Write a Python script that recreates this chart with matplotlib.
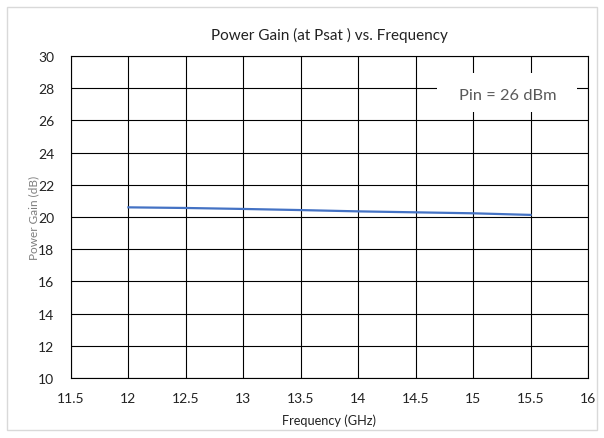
import matplotlib
matplotlib.use("Agg")
import matplotlib.pyplot as plt
from matplotlib.patches import Rectangle

plt.rcParams['font.family'] = ['Lato', 'DejaVu Sans']

freq_ghz = [12.0, 12.5, 13.0, 13.5, 14.0, 14.5, 15.0, 15.5]
gain_db = [20.60, 20.56, 20.50, 20.43, 20.35, 20.29, 20.23, 20.13]

x_ticks = [11.5, 12, 12.5, 13, 13.5, 14, 14.5, 15, 15.5, 16]
x_tick_labels = ["11.5", "12", "12.5", "13", "13.5", "14", "14.5", "15", "15.5", "16"]
y_ticks = [10, 12, 14, 16, 18, 20, 22, 24, 26, 28, 30]

title = "Power Gain (at Psat ) vs. Frequency"
x_label = "Frequency (GHz)"
y_label = "Power Gain (dB)"
note = "Pin = 26 dBm"

fig = plt.figure(figsize=(6.04, 4.39), dpi=100)
fig.patch.set_facecolor("white")
W, H = 604, 439
ax = fig.add_axes([71 / W, 1 - 379 / H, (588 - 71) / W, (379 - 57) / H])

ax.plot(freq_ghz, gain_db, color="#4472C4", linewidth=1.6, zorder=3)

ax.set_xlim(11.5, 16)
ax.set_ylim(10, 30)
ax.set_xticks(x_ticks)
ax.set_xticklabels(x_tick_labels)
ax.set_yticks(y_ticks)
ax.grid(True, color="black", linewidth=0.8)
ax.set_axisbelow(True)
for s in ax.spines.values():
    s.set_color("black")
    s.set_linewidth(0.8)
ax.tick_params(length=0, labelsize=10, colors="#222222")
ax.tick_params(axis="x", pad=10)
ax.tick_params(axis="y", pad=12)

ax.set_title(title, fontsize=11, color="#222222", pad=12)
ax.set_xlabel(x_label, fontsize=9.2, color="#222222", labelpad=7)
ax.set_ylabel(y_label, fontsize=8.5, color="#7f7f7f", labelpad=-1)

# white note box sitting over the grid in the upper right
ax.add_patch(Rectangle((14.69, 26.52), 1.215, 2.42, facecolor="white",
                       edgecolor="none", zorder=2))
ax.text(15.3, 27.55, note, fontsize=11.8, color="#595959",
        ha="center", va="center", zorder=4)

# light frame around the whole chart area
fig.patches.append(Rectangle((7 / W, 8 / H), (597 - 7) / W, (431 - 8) / H,
                             transform=fig.transFigure, fill=False,
                             edgecolor="#d9d9d9", linewidth=1.0))

fig.savefig("out.png", dpi=100)
